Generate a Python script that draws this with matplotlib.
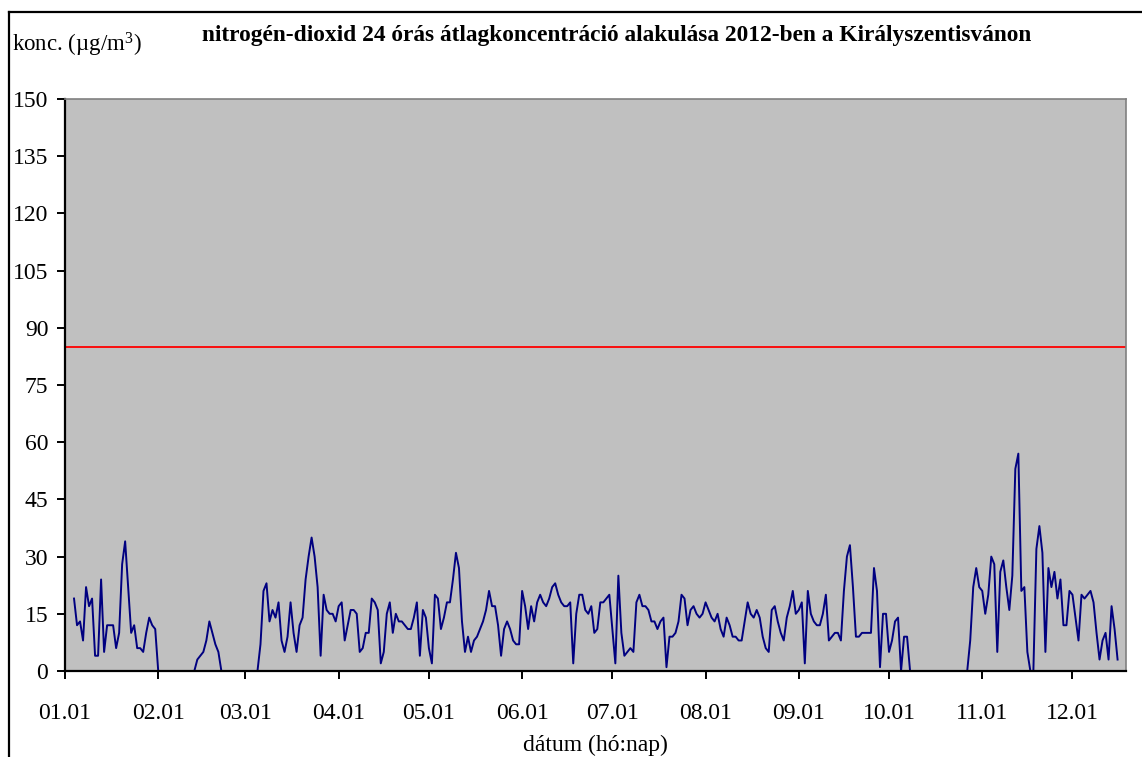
import matplotlib
matplotlib.use("Agg")
import matplotlib.pyplot as plt
import numpy as np
from matplotlib.lines import Line2D

plt.rcParams['font.family'] = ['Liberation Serif', 'DejaVu Serif']
plt.rcParams['mathtext.fontset'] = 'custom'
plt.rcParams['mathtext.rm'] = 'Liberation Serif'
plt.rcParams['mathtext.it'] = 'Liberation Serif:italic'
plt.rcParams['mathtext.default'] = 'regular'

N = None
# daily NO2 24h averages (day index 0 = 01.01)
jan = [N, N, N, 19, 12, 13, 8, 22, 17, 19, 4, 4, 24, 5, 12, 12, 12, 6, 10, 28, 34, 22, 10, 12, 6, 6, 5, 10, 14, 12, 11]
feb = [0, N, N, N, N, N, N, N, N, N, N, N, 0, 3, 4, 5, 8, 13, 10, 7, 5, 0, N, N, N, N, N, N, N]
mar = [N, N, N, N, 0, 7, 21, 23, 13, 16, 14, 18, 8, 5, 9, 18, 10, 5, 12, 14, 24, 30, 35, 30, 22, 4, 20, 16, 15, 15, 13]
apr = [17, 18, 8, 12, 16, 16, 15, 5, 6, 10, 10, 19, 18, 16, 2, 5, 15, 18, 10, 15, 13, 13, 12, 11, 11, 14, 18, 4, 16, 14]
may = [6, 2, 20, 19, 11, 14, 18, 18, 24, 31, 27, 13, 5, 9, 5, 8, 9, 11, 13, 16, 21, 17, 17, 12, 4, 11, 13, 11, 8, 7, 7]
jun = [21, 17, 11, 17, 13, 18, 20, 18, 17, 19, 22, 23, 20, 18, 17, 17, 18, 2, 15, 20, 20, 16, 15, 17, 10, 11, 18, 18, 19, 20]
jul = [11, 2, 25, 10, 4, 5, 6, 5, 18, 20, 17, 17, 16, 13, 13, 11, 13, 14, 1, 9, 9, 10, 13, 20, 19, 12, 16, 17, 15, 14, 15]
aug = [18, 16, 14, 13, 15, 11, 9, 14, 12, 9, 9, 8, 8, 13, 18, 15, 14, 16, 14, 9, 6, 5, 16, 17, 13, 10, 8, 14, 17, 21, 15]
sep = [16, 18, 2, 21, 15, 13, 12, 12, 15, 20, 8, 9, 10, 10, 8, 21, 30, 33, 22, 9, 9, 10, 10, 10, 10, 27, 21, 1, 15, 15]
oct_ = [5, 8, 13, 14, 0, 9, 9, 0, N, N, N, N, N, N, N, N, N, N, N, N, N, N, N, N, N, N, 0, 8, 22, 27, 22]
nov = [21, 15, 20, 30, 28, 5, 26, 29, 22, 16, 25, 53, 57, 21, 22, 5, 0, 0, 32, 38, 31, 5, 27, 22, 26, 19, 24, 12, 12, 21]
dec = [20, 14, 8, 20, 19, 20, 21, 18, 10, 3, 8, 10, 3, 17, 11, 3]

limit_value = 85
month_labels = ['01.01', '02.01', '03.01', '04.01', '05.01', '06.01',
                '07.01', '08.01', '09.01', '10.01', '11.01', '12.01']
month_starts = [0, 31, 60, 91, 121, 152, 182, 213, 244, 274, 305, 335]

values = jan + feb + mar + apr + may + jun + jul + aug + sep + oct_ + nov + dec
y = np.array([np.nan if v is None else v for v in values], dtype=float)
x = np.arange(len(y))

W, H = 1142, 757
fig = plt.figure(figsize=(W / 100, H / 100), dpi=100)
ax = fig.add_axes([65 / W, 1 - 671 / H, (1126 - 65) / W, (671 - 99) / H])
ax.set_facecolor('#C0C0C0')

ax.plot(x, y, color='#000080', lw=1.4, zorder=2)
ax.axhline(limit_value, color='#FF0000', lw=1.3, zorder=2)

ax.set_xlim(0, 352.8)
ax.set_ylim(0, 150)
ax.set_yticks(np.arange(0, 151, 15))
ax.set_xticks(month_starts)
ax.set_xticklabels(month_labels)

for s in ['left', 'bottom']:
    ax.spines[s].set_color('black')
    ax.spines[s].set_linewidth(1.6)
for s in ['top', 'right']:
    ax.spines[s].set_color('#808080')
    ax.spines[s].set_linewidth(1.2)

ax.tick_params(axis='both', direction='out', length=6, width=1.4, colors='black',
               labelsize=17)
ax.tick_params(axis='x', pad=17)
ax.tick_params(axis='y', pad=6)

ax.set_xlabel('dátum (hó:nap)', fontsize=17, labelpad=8)

fig.text(617 / W, 1 - 36 / H,
         'nitrogén-dioxid 24 órás átlagkoncentráció alakulása 2012-ben a Királyszentisvánon',
         ha='center', va='center', fontsize=16.8, fontweight='bold')
fig.text(12 / W, 1 - 45 / H, 'konc. (µg/m$^3$)', ha='left', va='center', fontsize=16.5)

# chart frame
fig.add_artist(Line2D([9 / W, 1], [1 - 12 / H, 1 - 12 / H], color='black', lw=1.6,
                      transform=fig.transFigure))
fig.add_artist(Line2D([9 / W, 9 / W], [0, 1 - 12 / H], color='black', lw=1.6,
                      transform=fig.transFigure))

fig.savefig('out.png', dpi=100)
